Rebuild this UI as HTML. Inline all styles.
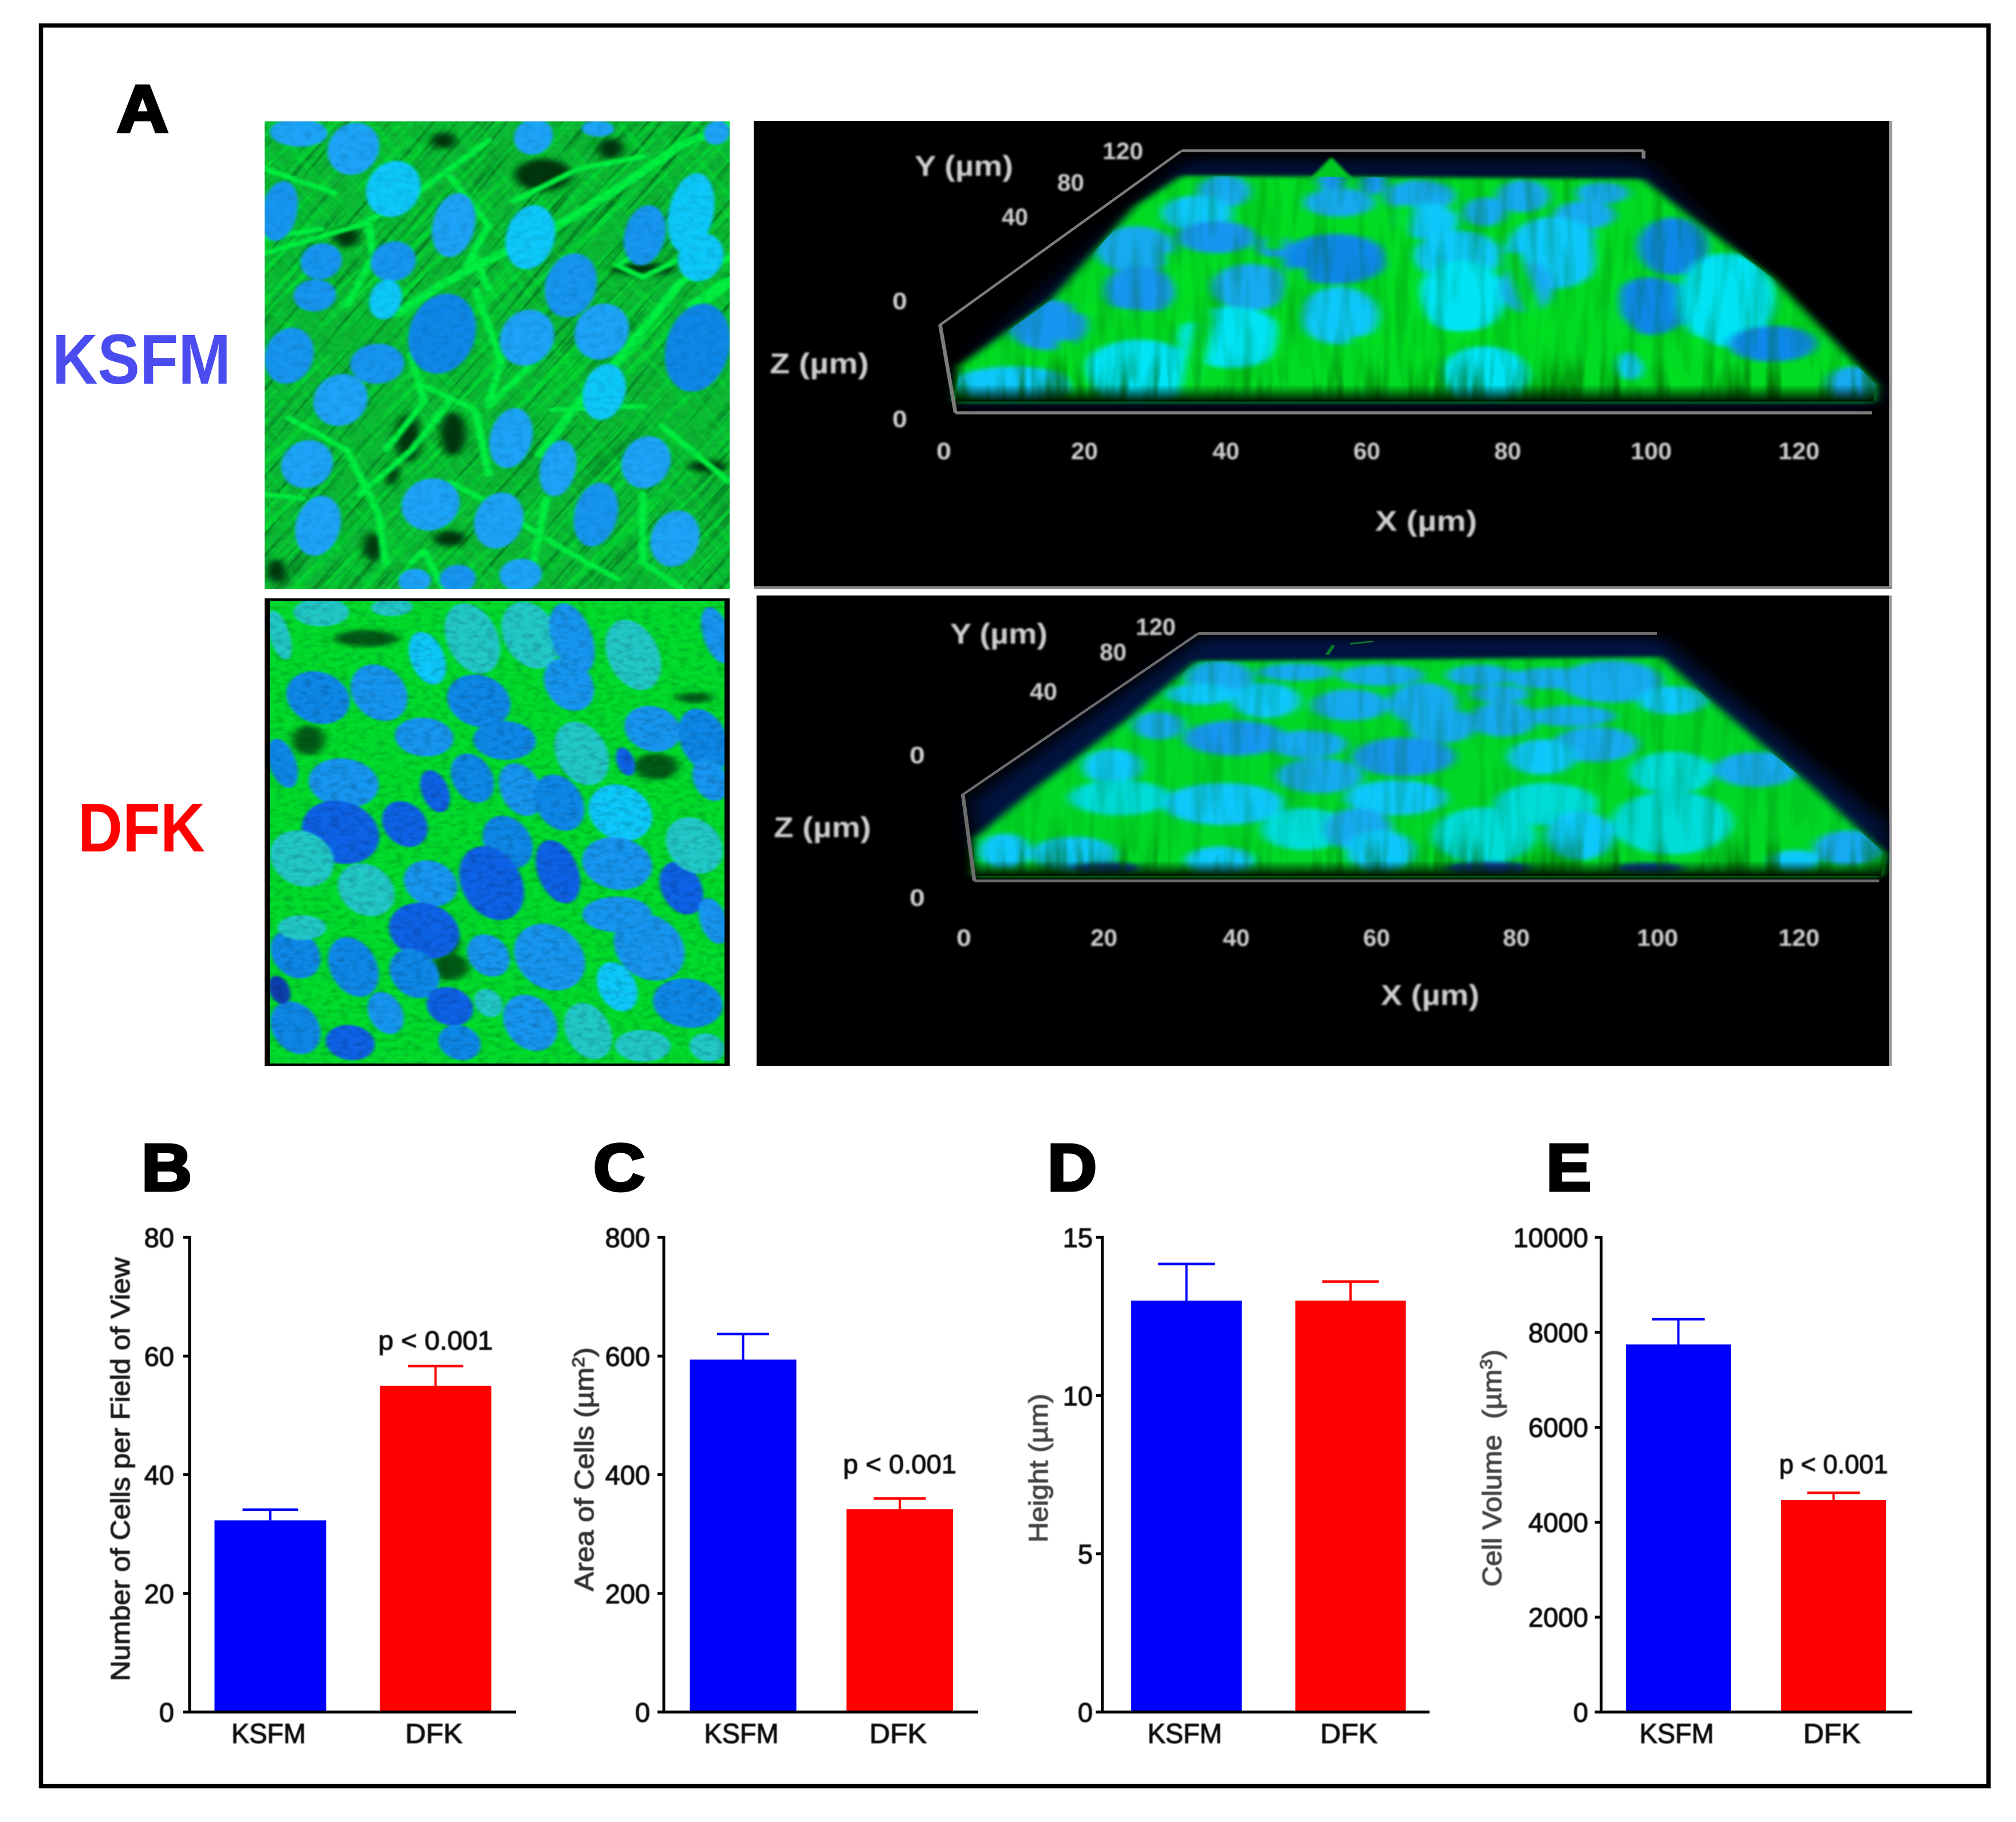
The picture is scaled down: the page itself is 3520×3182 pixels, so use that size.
<!DOCTYPE html>
<html lang="en">
<head>
<meta charset="utf-8">
<title>Cell morphology in KSFM and DFK cultures</title>
<style>
html,body{margin:0;padding:0;background:#fff;}
svg{display:block;}
text{font-family:"Liberation Sans",sans-serif;}
</style>
</head>
<body>
<svg id="figure" xmlns="http://www.w3.org/2000/svg" width="3520" height="3182" viewBox="0 0 3520 3182">
  <defs>
    <filter id="soft" x="-10%" y="-10%" width="120%" height="120%"><feGaussianBlur stdDeviation="0.9"/></filter>
    <filter id="softer" x="-10%" y="-10%" width="120%" height="120%"><feGaussianBlur stdDeviation="1.5"/></filter>
    <filter id="blur2" x="-20%" y="-20%" width="140%" height="140%"><feGaussianBlur stdDeviation="2.5"/></filter>
    <filter id="blur6" x="-20%" y="-20%" width="140%" height="140%"><feGaussianBlur stdDeviation="7"/></filter>
    <filter id="blur14" x="-20%" y="-20%" width="140%" height="140%"><feGaussianBlur stdDeviation="16"/></filter>
    <filter id="speckle" x="0" y="0" width="100%" height="100%">
      <feTurbulence type="fractalNoise" baseFrequency="0.07" numOctaves="2" seed="4"/>
      <feColorMatrix type="matrix" values="0 0 0 0 0  0 0 0 0 0  0 0 0 0 0  1.8 0 0 0 -0.75"/>
    </filter>
    <filter id="fibersBright" x="0" y="0" width="100%" height="100%" color-interpolation-filters="sRGB">
      <feTurbulence type="fractalNoise" baseFrequency="0.003 0.08" numOctaves="2" seed="7"/>
      <feColorMatrix type="matrix" values="0 0 0 0 0  0 0 0 0 0.95  0 0 0 0 0.2  4 0 0 0 -2"/>
    </filter>
    <filter id="fibersDark" x="0" y="0" width="100%" height="100%" color-interpolation-filters="sRGB">
      <feTurbulence type="fractalNoise" baseFrequency="0.004 0.1" numOctaves="2" seed="21"/>
      <feColorMatrix type="matrix" values="0 0 0 0 0  0 0 0 0 0.3  0 0 0 0 0.08  4 0 0 0 -2.1"/>
    </filter>
    <filter id="streaks" x="0" y="0" width="100%" height="100%">
      <feTurbulence type="fractalNoise" baseFrequency="0.06 0.004" numOctaves="2" seed="9"/>
      <feColorMatrix type="matrix" values="0 0 0 0 0  0 0 0 0 0.12  0 0 0 0 0  2.4 0 0 0 -1"/>
    </filter>
    <linearGradient id="bottomFadeTop" gradientUnits="userSpaceOnUse" x1="0" y1="860" x2="0" y2="915">
      <stop offset="0" stop-color="#001400" stop-opacity="0"/>
      <stop offset="1" stop-color="#001400" stop-opacity="1"/>
    </linearGradient>
    <linearGradient id="bottomFadeLow" gradientUnits="userSpaceOnUse" x1="0" y1="880" x2="0" y2="930">
      <stop offset="0" stop-color="#001400" stop-opacity="0"/>
      <stop offset="1" stop-color="#001400" stop-opacity="1"/>
    </linearGradient>
    <linearGradient id="streakFadeTop" gradientUnits="userSpaceOnUse" x1="0" y1="760" x2="0" y2="870">
      <stop offset="0" stop-color="#000"/>
      <stop offset="1" stop-color="#fff"/>
    </linearGradient>
    <linearGradient id="streakFadeLow" gradientUnits="userSpaceOnUse" x1="0" y1="800" x2="0" y2="890">
      <stop offset="0" stop-color="#000"/>
      <stop offset="1" stop-color="#fff"/>
    </linearGradient>
    <mask id="streakMaskTop" maskUnits="userSpaceOnUse" x="275" y="760" width="1210" height="160"><rect x="275" y="760" width="1210" height="160" fill="url(#streakFadeTop)"/></mask>
    <mask id="streakMaskLow" maskUnits="userSpaceOnUse" x="300" y="800" width="1190" height="130"><rect x="300" y="800" width="1190" height="130" fill="url(#streakFadeLow)"/></mask>
    <clipPath id="sampleClipTop"><polygon points="570,195 1170,205 1230,320 1340,520 1475,860 1472,915 275,915 280,800 400,590 510,290"/></clipPath>
    <clipPath id="sampleClipLow"><polygon points="590,245 1195,232 1250,350 1390,640 1488,860 1482,930 300,930 300,810 380,650 500,430"/></clipPath>
  </defs>

  <rect x="0" y="0" width="3520" height="3182" fill="#fff"/>
  <rect x="71.5" y="44.5" width="3400.5" height="3075" fill="none" stroke="#000" stroke-width="7.5"/>

  <text x="204" y="230" font-size="116" font-weight="700" fill="#000" stroke="#000" stroke-width="5" textLength="90" lengthAdjust="spacingAndGlyphs">A</text>
  <text x="91" y="670" font-size="123" font-weight="700" fill="#4a4cf0" textLength="312" lengthAdjust="spacingAndGlyphs">KSFM</text>
  <text x="136" y="1487" font-size="121" font-weight="700" fill="#ff0000" textLength="222" lengthAdjust="spacingAndGlyphs">DFK</text>

  <!-- KSFM 2D micrograph -->
  <svg id="microKsfm" x="462" y="212" width="812" height="817" viewBox="412 302 723 1164" preserveAspectRatio="none">
    <rect x="412" y="302" width="723" height="1164" fill="#0cb834"/>
    <rect x="-200" y="-200" width="2000" height="2400" filter="url(#fibersDark)" opacity="0.5" transform="rotate(-62 773 884)"/>
    <rect x="-200" y="-200" width="2000" height="2400" filter="url(#fibersBright)" opacity="0.55" transform="rotate(-58 773 884)"/>
    <rect x="-200" y="-200" width="2000" height="2400" filter="url(#fibersBright)" opacity="0.3" transform="rotate(62 773 884)"/>
    <g id="ksfmDark" filter="url(#blur6)"></g>
    <g fill="none" stroke="#00f040" stroke-width="12" stroke-linecap="round" stroke-linejoin="round" filter="url(#blur2)">
      <path d="M412,630 L560,560 L640,490 L760,350"/>
      <path d="M412,590 L500,570"/>
      <path d="M540,760 L580,640 L575,560"/>
      <path d="M620,780 C690,700 760,640 830,600 L960,470 L1060,360 L1135,310" stroke-width="18"/>
      <path d="M800,500 L900,420 L1000,390"/>
      <path d="M760,720 L740,640"/>
      <path d="M1135,640 L1060,700 L960,900 L900,1000 L840,1130" stroke-width="16"/>
      <path d="M1000,620 L960,660 L1000,690 L1050,650"/>
      <path d="M660,960 L740,1020 L760,1180"/>
      <path d="M450,1040 L540,1120 L590,1280 L600,1400"/>
      <path d="M830,900 L760,1010"/>
      <path d="M1030,1060 L1135,1200"/>
      <path d="M560,1230 L640,1120 L700,1000"/>
      <path d="M700,1200 L760,1250 L880,1370 L960,1440"/>
      <path d="M860,1020 L1000,1010"/>
      <path d="M412,1230 L470,1240"/>
      <path d="M640,1400 L660,1370 L690,1466"/>
      <path d="M1080,760 L1135,700" stroke-width="24"/>
      <path d="M740,720 L780,900 L760,1000"/>
      <path d="M520,480 L412,420"/>
      <path d="M700,440 L760,560 L720,680"/>
      <path d="M640,880 L660,1000 L600,1120"/>
      <path d="M1000,1230 L1000,1400 L1060,1466"/>
      <path d="M850,1240 L830,1400"/>
    </g>
    <g id="ksfmNuclei" filter="url(#blur2)"></g>
    <rect x="412" y="302" width="723" height="1164" filter="url(#speckle)" opacity="0.12"/>
  </svg>

  <!-- DFK 2D micrograph -->
  <svg id="microDfk" x="462" y="1045" width="812" height="817" viewBox="412 78 723 1424" preserveAspectRatio="none">
    <rect x="412" y="78" width="723" height="1424" fill="#00dc2c"/>
    <g id="dfkDark" filter="url(#blur6)"></g>
    <g id="dfkNuclei" filter="url(#blur2)"></g>
    <rect x="412" y="78" width="723" height="1424" filter="url(#speckle)" opacity="0.22"/>
    <rect x="416" y="82" width="715" height="1416" fill="none" stroke="#000" stroke-width="8"/>
  </svg>

  <!-- KSFM 3D view -->
  <rect x="1316" y="211" width="1982" height="813" fill="#000"/>
  <rect x="3298" y="211" width="6" height="817" fill="#999"/>
  <rect x="1316" y="1024" width="1988" height="5" fill="#888"/>
  <svg id="view3dTop" x="1316" y="211" width="1985" height="817" viewBox="12 20 1482 1490" preserveAspectRatio="none">
    <polygon points="575,145 1170,145 1480,880 1470,930 280,930 300,760" fill="#001f66" opacity="0.5" filter="url(#blur14)"/>
    <polygon points="570,195 1170,205 1230,320 1340,520 1475,860 1472,915 275,915 280,800 400,590 510,290" fill="#00dc22" filter="url(#blur6)"/>
    <polygon points="735,210 765,135 795,210" fill="#00c822" filter="url(#blur2)"/>
    <g clip-path="url(#sampleClipTop)">
      <g id="top3dNuclei" filter="url(#blur6)"></g>
      <g fill="none" stroke="#00e020" stroke-width="24" stroke-linecap="round" filter="url(#blur6)">
        <path d="M700,230 L690,420"/>
        <path d="M860,300 L850,450 L880,700 L900,880"/>
        <path d="M1000,450 L1040,700 L1060,880"/>
        <path d="M1120,400 L1130,640 L1220,880"/>
        <path d="M560,450 L600,650 L580,880"/>
        <path d="M440,620 L580,650"/>
        <path d="M720,500 L700,800"/>
        <path d="M800,720 L1000,700"/>
        <path d="M1240,720 L1300,880"/>
        <path d="M420,730 L440,880"/>
      </g>
      <rect x="275" y="195" width="1210" height="725" filter="url(#streaks)" opacity="0.3"/>
      <rect x="275" y="760" width="1210" height="160" filter="url(#streaks)" opacity="0.7" mask="url(#streakMaskTop)"/>
      <rect x="275" y="860" width="1210" height="60" fill="url(#bottomFadeTop)"/>
    </g>
    <g fill="none" stroke="#7c7c7c">
      <path d="M570,115 L1172,115" stroke-width="9"/>
      <path d="M1172,115 L1172,140" stroke-width="5"/>
      <path d="M570,115 L255,670 L275,950" stroke-width="5"/>
      <path d="M275,950 L1470,950" stroke-width="10"/>
    </g>
  </svg>

  <!-- DFK 3D view -->
  <rect x="1321" y="1040" width="1977" height="822" fill="#000"/>
  <rect x="3298" y="1040" width="5" height="822" fill="#999"/>
  <svg id="view3dLow" x="1321" y="1040" width="1979" height="822" viewBox="16 36 1478 1499" preserveAspectRatio="none">
    <polygon points="595,170 1195,170 1490,770 1488,880 305,860 295,690" fill="#001a5c" opacity="0.7" filter="url(#blur14)"/>
    <polygon points="590,245 1195,232 1250,350 1390,640 1488,860 1482,930 300,930 300,810 380,650 500,430" fill="#00d828" filter="url(#blur6)"/>
    <path d="M760,225 L768,195 M790,190 L820,182" stroke="#0a7a28" stroke-width="5" fill="none"/>
    <g clip-path="url(#sampleClipLow)">
      <g id="low3dNuclei" filter="url(#blur6)"></g>
      <rect x="300" y="232" width="1190" height="700" filter="url(#streaks)" opacity="0.25"/>
      <rect x="300" y="800" width="1190" height="130" filter="url(#streaks)" opacity="0.6" mask="url(#streakMaskLow)"/>
      <rect x="300" y="880" width="1190" height="50" fill="url(#bottomFadeLow)"/>
    </g>
    <g fill="none" stroke="#6c6c6c">
      <path d="M592,157 L1190,157" stroke-width="9"/>
      <path d="M592,157 L285,670 L300,945" stroke-width="5"/>
      <path d="M300,945 L1480,945" stroke-width="9"/>
    </g>
  </svg>

  <g id="view3dLabels" filter="url(#softer)"></g>
  <g id="charts"></g>
</svg>

<script>
// ---------- chart data ----------
const categories = ['KSFM', 'DFK'];

const panelBValues = [32.3, 55.0];
const panelBErrors = [1.8, 3.3];
const panelBTicks = [0, 20, 40, 60, 80];

const panelCValues = [594, 342];
const panelCErrors = [43, 18];
const panelCTicks = [0, 200, 400, 600, 800];

const panelDValues = [13.0, 13.0];
const panelDErrors = [1.16, 0.6];
const panelDTicks = [0, 5, 10, 15];

const panelEValues = [7744, 4463];
const panelEErrors = [531, 157];
const panelETicks = [0, 2000, 4000, 6000, 8000, 10000];

const barColors = ['#0000ff', '#ff0000'];

const SVG_NS = 'http://www.w3.org/2000/svg';
const chartRoot = document.getElementById('charts');
const plotBottom = 2990;
const plotTop = 2161;
const chartInk = '#111';

function yScale(value, axisMax) {
  return plotBottom - (value / axisMax) * (plotBottom - plotTop);
}
function xScale(index, cfg) {
  return cfg.firstCenter + index * cfg.step;
}
function mk(tag, parent, attrs) {
  const el = document.createElementNS(SVG_NS, tag);
  for (const key in attrs) el.setAttribute(key, attrs[key]);
  parent.appendChild(el);
  return el;
}

function drawPanel(cfg) {
  const group = mk('g', chartRoot, {});
  
  

  const axisMax = cfg.ticks[cfg.ticks.length - 1];

  const letter = mk('text', group, { x: cfg.letterX, y: 2079, 'font-size': 116, 'font-weight': 700, fill: '#000', stroke: '#000', 'stroke-width': 5, textLength: cfg.letterW, lengthAdjust: 'spacingAndGlyphs' });
  letter.textContent = cfg.id.toUpperCase();
  
  

  cfg.values.forEach(function (value, i) {
    const cx = xScale(i, cfg);
    const top = yScale(value, axisMax);
    const capY = yScale(value + cfg.errors[i], axisMax);

    const stem = mk('line', group, { x1: cx, x2: cx, y1: top, y2: capY, stroke: barColors[i], 'stroke-width': 4 });
    
    

    const cap = mk('line', group, { x1: cx - cfg.capW / 2, x2: cx + cfg.capW / 2, y1: capY, y2: capY, stroke: barColors[i], 'stroke-width': 4.5 });
    
    

    const bar = mk('rect', group, { x: cx - cfg.barW / 2, y: top, width: cfg.barW, height: plotBottom - top, fill: barColors[i] });
    
    

    const catLabel = mk('text', group, { x: cx - 3, y: 3044, 'font-size': 48, 'text-anchor': 'middle', fill: chartInk, stroke: chartInk, 'stroke-width': 1.2, filter: 'url(#soft)', textLength: i === 0 ? 130 : 100, lengthAdjust: 'spacingAndGlyphs' });
    catLabel.textContent = categories[i];
    
    

    if (cfg.pIndex === i) {
      const pLabel = mk('text', group, { x: cx, y: capY - cfg.pGap, 'font-size': 46, 'text-anchor': 'middle', fill: chartInk, stroke: chartInk, 'stroke-width': 1.2, filter: 'url(#soft)', textLength: cfg.pLen, lengthAdjust: 'spacingAndGlyphs' });
      pLabel.textContent = 'p < 0.001';
      
      
    }
  });

  const yAxis = mk('line', group, { x1: cfg.axisX, x2: cfg.axisX, y1: plotTop - 2.5, y2: plotBottom + 2.5, stroke: '#000', 'stroke-width': 5 });
  
  

  const xAxis = mk('line', group, { x1: cfg.axisX - 11, x2: cfg.axisEnd, y1: plotBottom, y2: plotBottom, stroke: '#000', 'stroke-width': 5 });
  
  

  cfg.ticks.forEach(function (tick) {
    const y = yScale(tick, axisMax);
    const mark = mk('line', group, { x1: cfg.axisX - 11, x2: cfg.axisX, y1: y, y2: y, stroke: '#000', 'stroke-width': 5 });
    
    

    const label = mk('text', group, { x: cfg.tickLabelX, y: y + 17, 'font-size': 47, 'text-anchor': 'end', fill: chartInk, stroke: chartInk, 'stroke-width': 1.2, filter: 'url(#soft)' });
    label.textContent = String(tick);
    
    
  });

  const title = mk('text', group, { x: cfg.titleX, y: cfg.titleBottom, 'font-size': 46, fill: cfg.titleFill, stroke: cfg.titleFill, 'stroke-width': 1.2, filter: 'url(#soft)', transform: 'rotate(-90 ' + cfg.titleX + ' ' + cfg.titleBottom + ')', textLength: cfg.titleLen, lengthAdjust: 'spacingAndGlyphs' });
  cfg.titleParts.forEach(function (part) {
    const span = mk('tspan', title, part.sup ? { 'baseline-shift': 'super', 'font-size': 30 } : {});
    span.textContent = part.text;
  });
  
  
}

drawPanel({ id: 'b', values: panelBValues, errors: panelBErrors, ticks: panelBTicks, firstCenter: 472, step: 288.5, barW: 195, capW: 97, axisX: 331, axisEnd: 901, tickLabelX: 304, letterX: 247, letterW: 88, pIndex: 1, pGap: 29, pLen: 200, titleX: 226, titleBottom: 2936, titleLen: 740, titleFill: '#1a1a1a', titleParts: [{ text: 'Number of Cells per Field of View' }] });
drawPanel({ id: 'c', values: panelCValues, errors: panelCErrors, ticks: panelCTicks, firstCenter: 1297.5, step: 273.5, barW: 186, capW: 91, axisX: 1159, axisEnd: 1708, tickLabelX: 1135, letterX: 1036, letterW: 90, pIndex: 1, pGap: 44, pLen: 198, titleX: 1036, titleBottom: 2779, titleLen: 426, titleFill: '#333', titleParts: [{ text: 'Area of Cells (\u00b5m' }, { text: '2', sup: true }, { text: ')' }] });
drawPanel({ id: 'd', values: panelDValues, errors: panelDErrors, ticks: panelDTicks, firstCenter: 2071.6, step: 286.5, barW: 193, capW: 99, axisX: 1924.6, axisEnd: 2496, tickLabelX: 1908, letterX: 1829, letterW: 86, pIndex: -1, pGap: 0, pLen: 0, titleX: 1829, titleBottom: 2694, titleLen: 260, titleFill: '#444', titleParts: [{ text: 'Height (\u00b5m)' }] });
drawPanel({ id: 'e', values: panelEValues, errors: panelEErrors, ticks: panelETicks, firstCenter: 2930.5, step: 271, barW: 183, capW: 92, axisX: 2795.6, axisEnd: 3339, tickLabelX: 2773, letterX: 2700, letterW: 78, pIndex: 1, pGap: 34, pLen: 190, titleX: 2621, titleBottom: 2771, titleLen: 414, titleFill: '#444', titleParts: [{ text: 'Cell Volume\u00a0 (\u00b5m' }, { text: '3', sup: true }, { text: ')' }] });

// ---------- micrograph artwork ----------
const palette = { b: '#0f62e6', m: '#1896f0', t: '#22c8c8', c: '#0cc8fa', k: '#1aa4f8', d: '#1088e8', v: '#0a3fb0', h: '#04e4f6', q: '#12aaf0', w: '#06dcd8' };

const ksfmNuclei = [
  [465,330,45,35,'k'],[550,370,40,65,'k'],[612,470,42,70,'c'],[435,525,28,75,'m'],[706,560,33,80,'k'],
  [830,340,30,45,'k'],[825,590,38,80,'c'],[1003,585,32,75,'m'],[1075,530,35,100,'c'],[1090,640,35,60,'c'],
  [500,650,32,45,'m'],[490,735,33,40,'m'],[612,650,35,50,'m'],[600,745,25,50,'c'],[688,830,52,100,'d'],
  [888,710,40,80,'m'],[820,840,42,70,'k'],[936,825,42,70,'k'],[1085,865,50,110,'d'],[450,885,38,70,'m'],
  [587,905,42,50,'m'],[530,995,42,65,'k'],[940,975,33,70,'c'],[795,1090,33,75,'k'],[868,1165,28,70,'k'],
  [478,1155,40,60,'k'],[1005,1150,38,65,'k'],[670,1255,45,65,'k'],[495,1308,35,75,'k'],[776,1295,38,70,'k'],
  [927,1280,34,80,'m'],[1050,1340,38,70,'k'],[645,1445,25,30,'k'],[712,1440,28,35,'m'],[810,1430,33,40,'k'],
  [930,320,25,20,'k'],[1115,330,20,30,'k']
];
const ksfmDarkSpots = [
  [845,435,45,40],[705,1080,20,55],[635,1090,20,60],[540,590,20,25],[1000,670,50,15],[690,350,20,20],
  [950,370,20,25],[580,1360,15,35],[700,1340,25,20],[1100,1160,30,15],[430,1420,15,30],[610,1180,10,30]
];
const dfkNuclei = [
  [500,120,40,40,'t'],[610,105,30,25,'t'],[735,200,38,100,'t'],[665,260,25,75,'c'],[825,190,40,95,'t'],
  [890,200,30,100,'m'],[985,250,38,100,'t'],[885,340,35,75,'m'],[1115,190,20,80,'m'],[435,190,15,70,'t'],
  [495,380,45,75,'d'],[590,365,40,80,'m'],[745,390,45,75,'d'],[660,500,42,55,'m'],[785,510,45,55,'d'],
  [905,550,38,90,'t'],[1015,475,40,65,'m'],[1095,510,35,90,'d'],[1105,630,25,60,'m'],[973,575,13,40,'b'],
  [440,580,20,70,'d'],[535,640,50,70,'m'],[735,625,30,70,'d'],[677,665,20,60,'b'],[810,660,30,75,'m'],
  [870,700,35,80,'d'],[965,730,45,80,'c'],[630,765,32,65,'b'],[530,790,55,90,'b'],[790,820,35,75,'d'],
  [868,910,30,90,'b'],[960,885,50,75,'m'],[765,945,45,105,'b'],[670,945,38,65,'m'],[470,870,45,80,'t'],
  [570,965,40,75,'t'],[1060,960,30,75,'b'],[1080,830,40,80,'t'],[960,1040,50,50,'m'],[660,1090,50,80,'b'],
  [760,1165,30,60,'m'],[855,1170,50,95,'m'],[1010,1140,50,95,'m'],[460,1160,35,70,'d'],[550,1200,35,85,'d'],
  [645,1220,35,70,'d'],[960,1260,28,70,'c'],[1070,1310,50,70,'d'],[1110,1060,20,65,'m'],[700,1320,33,55,'b'],
  [600,1340,25,60,'m'],[760,1310,20,40,'t'],[825,1370,38,80,'m'],[915,1395,33,80,'t'],[460,1385,35,75,'d'],
  [545,1430,35,50,'b'],[715,1430,30,50,'d'],[1000,1440,40,45,'t'],[1100,1445,25,40,'t'],[435,1270,15,40,'v'],
  [470,1080,35,35,'t']
];
const dfkDarkSpots = [
  [570,200,50,25],[480,510,25,45],[1020,590,35,40],[700,1200,30,40],[700,1130,15,30],[1080,380,30,15]
];
const top3dNuclei = [
  [625,245,30,45,'q'],[765,215,15,30,'m'],[820,220,15,30,'m'],[775,280,40,40,'q'],[880,260,40,45,'q'],
  [1015,260,30,45,'q'],[1118,250,30,30,'q'],[590,315,40,50,'c'],[965,310,25,40,'q'],[1095,320,35,40,'q'],
  [890,340,35,50,'c'],[615,390,45,45,'m'],[510,430,45,65,'q'],[770,460,60,70,'d'],[690,420,20,30,'m'],
  [930,450,50,70,'c'],[1055,440,55,100,'c'],[1210,420,40,80,'d'],[515,560,40,70,'m'],[660,550,45,65,'q'],
  [935,580,50,100,'h'],[1020,550,30,70,'q'],[1180,610,45,80,'d'],[1280,590,55,130,'h'],[395,670,45,70,'m'],
  [775,640,45,80,'c'],[635,710,60,85,'h'],[1340,730,50,50,'d'],[515,820,65,90,'h'],[965,830,50,80,'h'],
  [350,860,70,50,'c'],[1445,860,30,50,'q'],[1155,800,15,40,'c']
];
const low3dNuclei = [
  [620,300,40,50,'q'],[595,350,40,30,'c'],[720,280,45,25,'q'],[680,370,40,50,'c'],[830,290,50,30,'q'],
  [960,290,40,30,'q'],[1050,300,50,30,'q'],[1130,310,60,60,'q'],[790,385,45,45,'q'],[885,380,40,60,'q'],
  [985,350,35,25,'q'],[910,450,40,50,'q'],[1080,420,50,30,'q'],[1210,370,40,40,'c'],[540,450,30,40,'q'],
  [640,490,60,50,'m'],[735,510,45,40,'q'],[860,550,60,55,'m'],[990,430,40,50,'q'],[1110,510,50,50,'q'],
  [1040,550,40,50,'c'],[480,580,35,50,'c'],[750,610,50,50,'q'],[1210,600,50,60,'w'],[1320,590,50,50,'q'],
  [490,680,60,50,'w'],[625,700,70,60,'c'],[850,680,60,50,'c'],[1045,700,60,60,'w'],[730,780,50,60,'w'],
  [800,780,40,60,'q'],[965,800,60,80,'w'],[1090,800,40,70,'c'],[1210,760,70,90,'w'],[620,880,40,40,'c'],
  [430,860,50,50,'c'],[830,850,40,60,'c'],[1440,840,40,50,'q'],[340,850,30,50,'c'],[970,905,50,20,'v'],
  [470,905,40,18,'v'],[1180,905,40,15,'v'],[1370,880,30,30,'c']
];

function drawNuclei(groupId, list, tilt, grow, itemName) {
  const group = document.getElementById(groupId);
  list.forEach(function (n) {
    const e = mk('ellipse', group, { cx: n[0], cy: n[1], rx: n[2] * grow, ry: n[3] * grow, fill: palette[n[4]], transform: 'rotate(' + tilt + ' ' + n[0] + ' ' + n[1] + ')' });
    
    
  });
}
function drawDark(groupId, list, fill) {
  const group = document.getElementById(groupId);
  list.forEach(function (n) {
    const e = mk('ellipse', group, { cx: n[0], cy: n[1], rx: n[2], ry: n[3], fill: fill });
    
    
  });
}
drawDark('ksfmDark', ksfmDarkSpots, '#02340f');
drawDark('dfkDark', dfkDarkSpots, '#045a18');
drawNuclei('ksfmNuclei', ksfmNuclei, 6, 1, 'ksfm-nucleus');
drawNuclei('dfkNuclei', dfkNuclei, -8, 1.08, 'dfk-nucleus');
drawNuclei('top3dNuclei', top3dNuclei, 0, 1.15, 'ksfm-3d-nucleus');
drawNuclei('low3dNuclei', low3dNuclei, 0, 1.12, 'dfk-3d-nucleus');

// ---------- 3D view labels ----------
const view3dLabelRows = [
  ['Y (\u00b5m)', 1597, 307, 172, 50], ['120', 1925, 278, 71, 42], ['80', 1846, 333, 47, 42], ['40', 1749, 393, 46, 42],
  ['0', 1558, 540, 26, 42], ['Z (\u00b5m)', 1344, 652, 173, 50], ['0', 1558, 746, 26, 42],
  ['0', 1635, 802, 26, 42], ['20', 1870, 802, 47, 42], ['40', 2117, 802, 47, 42], ['60', 2363, 802, 47, 42],
  ['80', 2609, 802, 47, 42], ['100', 2847, 802, 72, 42], ['120', 3105, 802, 72, 42], ['X (\u00b5m)', 2401, 927, 178, 50],
  ['Y (\u00b5m)', 1659, 1124, 170, 50], ['120', 1983, 1109, 70, 42], ['80', 1920, 1153, 47, 42], ['40', 1798, 1222, 48, 42],
  ['0', 1588, 1333, 27, 42], ['Z (\u00b5m)', 1351, 1462, 170, 50], ['0', 1588, 1582, 27, 42],
  ['0', 1670, 1652, 26, 42], ['20', 1904, 1652, 47, 42], ['40', 2135, 1652, 47, 42], ['60', 2380, 1652, 47, 42],
  ['80', 2624, 1652, 47, 42], ['100', 2858, 1652, 72, 42], ['120', 3105, 1652, 72, 42], ['X (\u00b5m)', 2411, 1755, 172, 50]
];
const labelGroup = document.getElementById('view3dLabels');
view3dLabelRows.forEach(function (row) {
  const t = mk('text', labelGroup, { x: row[1], y: row[2], 'font-size': row[4], 'font-weight': 700, fill: '#cfcfcf', textLength: row[3], lengthAdjust: 'spacingAndGlyphs' });
  t.textContent = row[0];
  
  
});
</script>
</body>
</html>
